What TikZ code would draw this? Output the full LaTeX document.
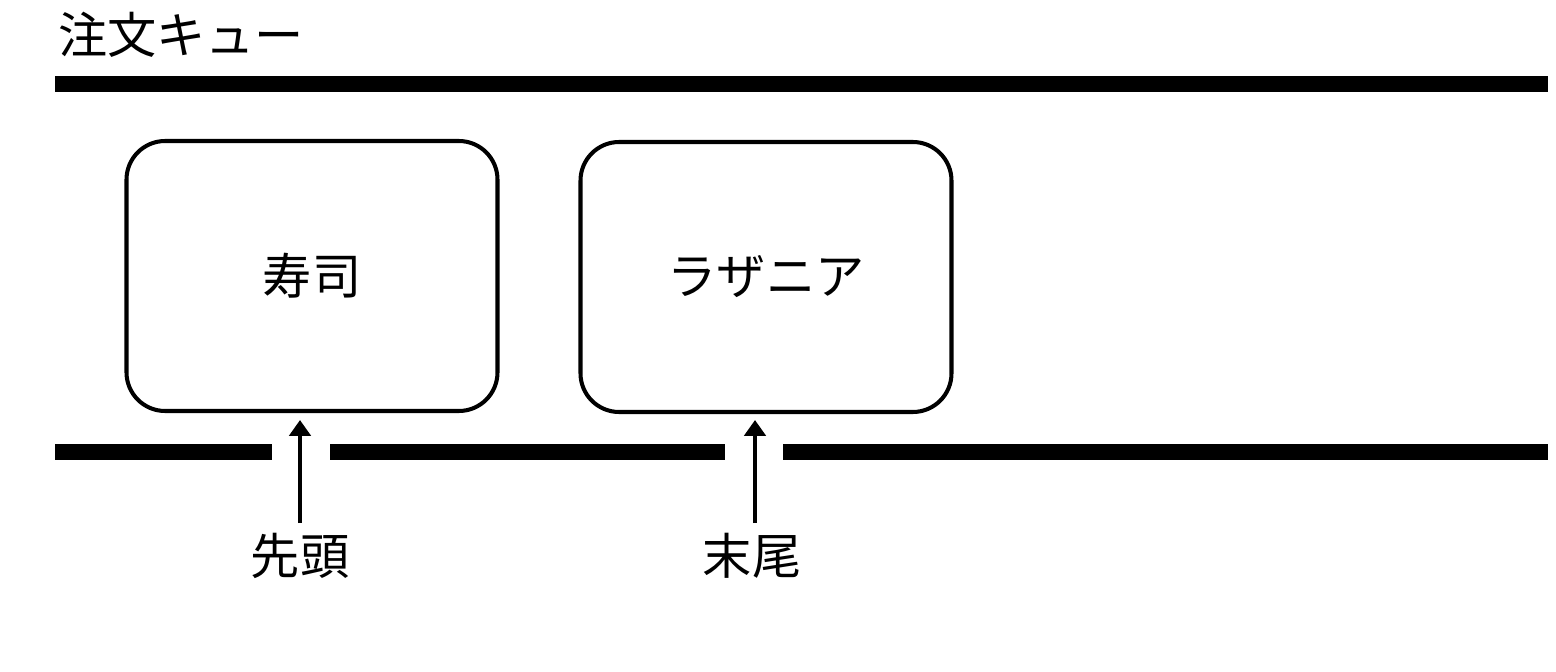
\documentclass[tikz,border=0pt]{standalone}
\usepackage{fontspec}
\newfontfamily\cjk{Noto Sans CJK JP}
\usetikzlibrary{arrows.meta}
\begin{document}
\begin{tikzpicture}[x=0.02cm,y=-0.02cm,
  rail/.style={line width=9pt},
  item/.style={draw,line width=2.3pt,rounded corners=22pt,minimum width=371*0.02cm,minimum height=270*0.02cm,font=\cjk\fontsize{28}{30}\selectfont},
  ptr/.style={line width=2.8pt,-{Triangle[length=9pt,width=12pt]}},
  lbl/.style={font=\cjk\fontsize{28}{30}\selectfont}]
\useasboundingbox (0,0) rectangle (1556,672);
\node[lbl,anchor=west] (title) at (52,35) {注文キュー};
\coordinate (t1) at (55,84); \coordinate (t2) at (1548,84);
\draw[rail] (t1) -- (t2);
\coordinate (b1) at (55,452); \coordinate (b2) at (272,452);
\coordinate (b3) at (330,452); \coordinate (b4) at (725,452);
\coordinate (b5) at (783,452); \coordinate (b6) at (1548,452);
\draw[rail] (b1) -- (b2); \draw[rail] (b3) -- (b4); \draw[rail] (b5) -- (b6);
\node[item] (sushi) at (312,276) {寿司};
\node[item] (lasagna) at (766,277) {ラザニア};
\node[lbl] (head) at (300,556) {先頭};
\node[lbl] (tail) at (752,556) {末尾};
\draw[ptr] (head.north) ++(0,-4) coordinate (h0) -- (300,420);
\draw[ptr] (tail.north) ++(3,-4) coordinate (t0) -- (755,420);
\end{tikzpicture}
\end{document}
